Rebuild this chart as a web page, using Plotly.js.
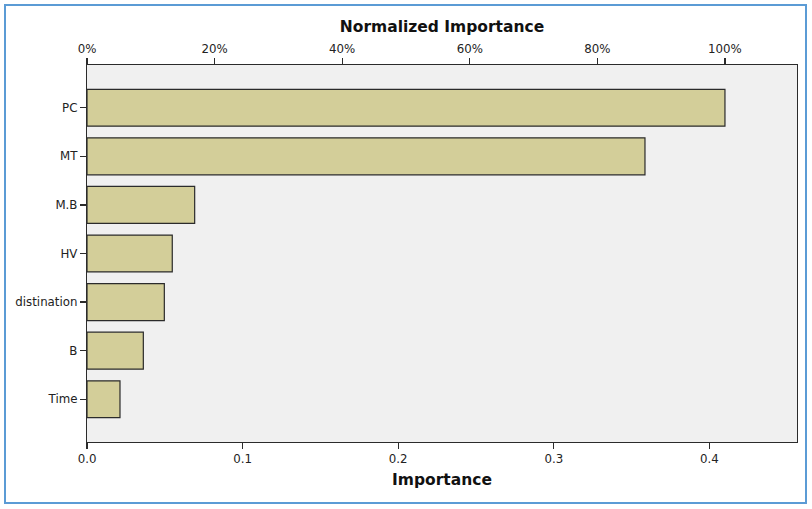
<!DOCTYPE html>
<html>
<head>
<meta charset="utf-8">
<script src="https://cdn.plot.ly/plotly-3.0.1.min.js"></script>
<style>
  html, body { margin: 0; padding: 0; background: #ffffff; }
  #wrap { position: relative; width: 812px; height: 509px; }
  #chart { position: absolute; left: 0; top: 0; width: 812px; height: 509px; }
  #frame { position: absolute; left: 4px; top: 4px; width: 799px; height: 496px;
           border: 2px solid #5b9bd5; pointer-events: none; }
</style>
</head>
<body>
<div id="wrap">
  <div id="chart"></div>
  <div id="frame"></div>
</div>
<script>
// Data
const categories = ["PC", "MT", "M.B", "HV", "distination", "B", "Time"];
const importance = [0.410, 0.3586, 0.0692, 0.0548, 0.0497, 0.0362, 0.0212];
const bottomTicks = [0.0, 0.1, 0.2, 0.3, 0.4];
const topTicks = [0, 20, 40, 60, 80, 100];

const maxImp = Math.max.apply(null, importance);
const normalized = importance.map(v => v / maxImp * 100);
const xMax = 0.4563;
const x2Max = xMax / maxImp * 100;

const tickFont = { family: "DejaVu Sans, Verdana, sans-serif", size: 11.8, color: "#222222" };
const titleFont = { family: "DejaVu Sans, Verdana, sans-serif", size: 15.5, color: "#111111", weight: "bold" };

const traces = [
  {
    type: "bar",
    orientation: "h",
    y: categories,
    x: importance,
    width: 0.76,
    marker: { color: "#d3ce99", line: { color: "#2b2b2b", width: 1.2 } },
    hoverinfo: "x+y",
    xaxis: "x",
    yaxis: "y"
  },
  {
    type: "scatter",
    mode: "markers",
    y: categories,
    x: normalized,
    marker: { opacity: 0, size: 1 },
    hoverinfo: "skip",
    showlegend: false,
    xaxis: "x2",
    yaxis: "y"
  }
];

const layout = {
  width: 812,
  height: 509,
  margin: { l: 87, r: 15, t: 65, b: 67 },
  paper_bgcolor: "rgba(0,0,0,0)",
  plot_bgcolor: "#f0f0f0",
  showlegend: false,
  bargap: 0.24,
  xaxis: {
    range: [0, xMax],
    tickvals: bottomTicks,
    ticktext: bottomTicks.map(v => v.toFixed(1)),
    ticks: "outside",
    ticklen: 6,
    tickwidth: 1.2,
    tickcolor: "#2b2b2b",
    showline: true,
    linecolor: "#2b2b2b",
    linewidth: 1.2,
    showgrid: false,
    zeroline: false,
    tickfont: tickFont,
    title: { text: "Importance", font: titleFont, standoff: 8 },
    fixedrange: true
  },
  xaxis2: {
    overlaying: "x",
    side: "top",
    anchor: "y",
    range: [0, x2Max],
    tickvals: topTicks,
    ticktext: topTicks.map(v => v + "%"),
    ticks: "outside",
    ticklen: 6,
    tickwidth: 1.2,
    tickcolor: "#2b2b2b",
    showline: true,
    linecolor: "#2b2b2b",
    linewidth: 1.2,
    showgrid: false,
    zeroline: false,
    tickfont: tickFont,
    title: { text: "Normalized Importance", font: titleFont, standoff: 5 },
    fixedrange: true
  },
  yaxis: {
    type: "category",
    categoryorder: "array",
    categoryarray: categories,
    range: [6.88, -0.88],
    ticks: "outside",
    ticklen: 6,
    tickwidth: 1.2,
    tickcolor: "#2b2b2b",
    showline: true,
    mirror: true,
    linecolor: "#2b2b2b",
    linewidth: 1.2,
    showgrid: false,
    zeroline: false,
    tickfont: tickFont,
    fixedrange: true
  }
};

Plotly.newPlot("chart", traces, layout, { displayModeBar: false, staticPlot: true });
</script>
</body>
</html>
